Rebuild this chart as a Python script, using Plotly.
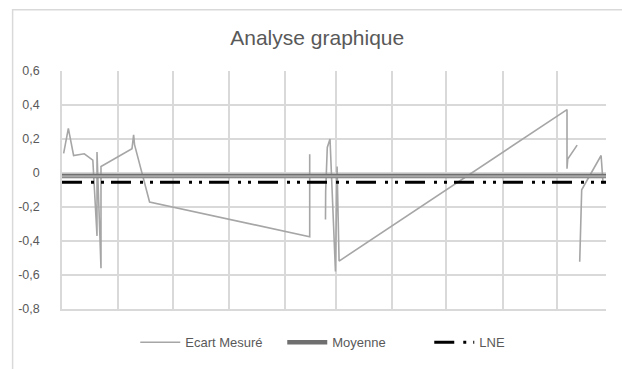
import pandas as pd
import plotly.graph_objects as go

# ---- data (day offset from 2018-10-01, measured deviation) ----
ecart_days = [0.9, 3.5, 6.4, 12.3, 17.0, 19.3, 19.3, 21.5, 21.5, 38.6, 39.5, 40.0, 48.3,
              136.6, 136.6, None,
              145.3, 145.4, 146.3, 147.8, 150.8, 151.7, 152.8,
              278.5, 278.5, 278.9, 284.1, None,
              285.5, 286.6, 297.3, 298.4]
ecart_vals = [0.116, 0.263, 0.103, 0.113, 0.076, -0.37, 0.124, -0.56, 0.038, 0.143, 0.225, 0.167, -0.171,
              -0.375, 0.110, None,
              -0.274, -0.109, 0.15, 0.20, -0.579, 0.038, -0.518,
              0.373, 0.025, 0.082, 0.164, None,
              -0.522, -0.099, 0.103, -0.064]
moyenne_val = -0.018
lne_val = -0.055
start_date = "2018-10-01"
end_date = "2019-07-28"
y_ticks = [0.6, 0.4, 0.2, 0, -0.2, -0.4, -0.6, -0.8]
y_labels = ["0,6", "0,4", "0,2", "0", "-0,2", "-0,4", "-0,6", "-0,8"]

t0 = pd.Timestamp(start_date)
ecart_x = [None if d is None else t0 + pd.Timedelta(days=d) for d in ecart_days]
span_x = [pd.Timestamp(start_date), pd.Timestamp(end_date)]

FONT = "Liberation Sans"
TXT = "#595959"
GRID = "#d9d9d9"

fig = go.Figure()
fig.add_trace(go.Scatter(x=ecart_x, y=ecart_vals, mode="lines", name="Ecart Mesuré",
                         line=dict(color="#a6a6a6", width=1.6), connectgaps=False))
fig.add_trace(go.Scatter(x=span_x, y=[moyenne_val, moyenne_val], mode="lines", name="Moyenne",
                         line=dict(color="#6f6f6f", width=4.5)))
fig.add_trace(go.Scatter(x=span_x, y=[moyenne_val - 0.002, moyenne_val - 0.002], mode="lines",
                         showlegend=False, line=dict(color="#a8a8a8", width=2.2), hoverinfo="skip"))
fig.add_trace(go.Scatter(x=span_x, y=[lne_val, lne_val], mode="lines", name="LNE",
                         line=dict(color="#000000", width=3, dash="20px,9px,3px,7px,3px,7px")))

fig.update_layout(
    width=622, height=369,
    margin=dict(l=62, r=16, t=71, b=53),
    paper_bgcolor="white", plot_bgcolor="white",
    font=dict(family=FONT, color=TXT, size=12),
    title=dict(text="Analyse graphique", x=0.51, xanchor="center", y=1 - 38 / 369, yanchor="middle",
               font=dict(family=FONT, size=21, color=TXT)),
    showlegend=True,
    legend=dict(orientation="h", x=0.54, xanchor="center", y=-0.14, yanchor="middle",
                font=dict(family=FONT, size=13, color=TXT), bgcolor="rgba(0,0,0,0)",
                itemwidth=40, entrywidth=92, tracegroupgap=0),
    xaxis=dict(type="date", range=span_x, tick0=start_date, dtick="M1", showticklabels=False,
               showgrid=True, gridcolor=GRID, gridwidth=1.5, zeroline=False,
               showline=True, linecolor=GRID, linewidth=1.5, ticks=""),
    yaxis=dict(range=[-0.8, 0.6], tickvals=y_ticks, ticktext=y_labels, showgrid=True,
               gridcolor=GRID, gridwidth=1.5, zeroline=False, showline=True, linecolor=GRID,
               linewidth=1.5, ticks="", ticklabelstandoff=18,
               tickfont=dict(family=FONT, size=12.5, color=TXT)),
    shapes=[
        dict(type="line", xref="paper", yref="paper", x0=-0.0908, x1=-0.0908, y0=1.26, y1=-0.3,
             line=dict(color=GRID, width=1.5)),
        dict(type="line", xref="paper", yref="paper", x0=-0.0908, x1=1.1, y0=1.257, y1=1.257,
             line=dict(color=GRID, width=1.5)),
    ],
)

fig.write_html("out.html")
